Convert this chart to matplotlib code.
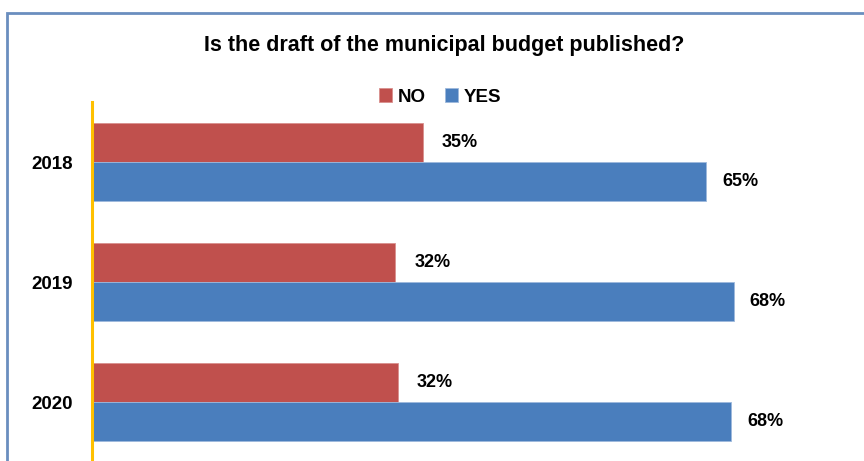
import matplotlib
matplotlib.use("Agg")
import matplotlib.pyplot as plt
from matplotlib.patches import Rectangle
import numpy as np

plt.rcParams["font.family"] = ["Liberation Sans", "DejaVu Sans"]
plt.rcParams["font.weight"] = "bold"

years = ["2018", "2019", "2020"]
no_vals = [35.0, 32.1, 32.4]
yes_vals = [65.0, 67.9, 67.6]
no_labels = ["35%", "32%", "32%"]
yes_labels = ["65%", "68%", "68%"]

COL_NO = "#C0504D"
COL_YES = "#4A7EBD"
COL_AXIS = "#FFC000"
COL_FRAME = "#6A8EBF"

W, H = 864, 461
fig = plt.figure(figsize=(W / 100, H / 100), dpi=100)

# outer chart frame (runs off the right and bottom edges)
fig.patches.append(Rectangle((7 / W, -0.05), 1.2, (H - 13) / H + 0.05,
                             transform=fig.transFigure, fill=False,
                             edgecolor=COL_FRAME, linewidth=2))

ax = fig.add_axes([92 / W, -1 / H, 756 / W, 360 / H])
y = np.arange(len(years))
h = 0.325
ax.barh(y - h / 2, no_vals, h, color=COL_NO, edgecolor="#D9908E", linewidth=0.6,
        label="NO")
ax.barh(y + h / 2, yes_vals, h, color=COL_YES, edgecolor="#9DB9DC", linewidth=0.6,
        label="YES")

for i in range(len(years)):
    ax.text(no_vals[i] + 2.0, y[i] - h / 2, no_labels[i], va="center", ha="left",
            fontsize=13, fontweight="bold")
    ax.text(yes_vals[i] + 1.7, y[i] + h / 2, yes_labels[i], va="center", ha="left",
            fontsize=13, fontweight="bold")

ax.set_xlim(0, 80)
ax.set_ylim(2.5, -0.5)
ax.set_yticks(y)
ax.set_yticklabels(years, fontsize=13.5, fontweight="bold")
ax.tick_params(axis="y", length=0, pad=14)
ax.set_xticks([])
for s in ["top", "right", "bottom"]:
    ax.spines[s].set_visible(False)
ax.spines["left"].set_color(COL_AXIS)
ax.spines["left"].set_linewidth(2.2)

fig.text(444 / W, 1 - 45 / H, "Is the draft of the municipal budget published?",
         ha="center", va="center", fontsize=15.5, fontweight="bold")

fig.legend(loc="center", bbox_to_anchor=(440 / W, 1 - 97 / H), ncol=2,
           frameon=False, handlelength=0.7, handleheight=0.7,
           handletextpad=0.3, columnspacing=1.0,
           prop={"weight": "bold", "size": 13.5})

fig.savefig("out.png", dpi=100)
